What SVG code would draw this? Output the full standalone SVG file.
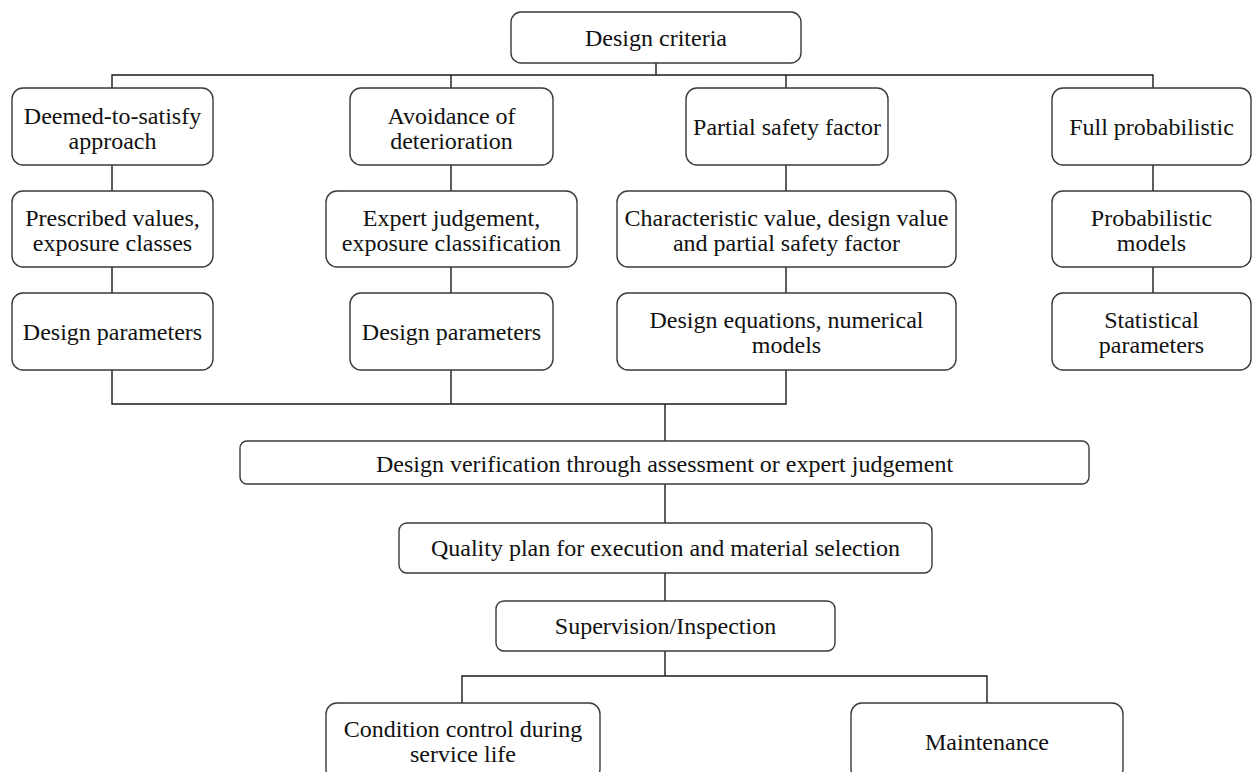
<svg xmlns="http://www.w3.org/2000/svg" width="1252" height="772" viewBox="0 0 1252 772">
<style>
.box{fill:#fff;stroke:#3a3a3a;stroke-width:1.4}
.t{font-family:"Liberation Serif","Times New Roman",serif;font-size:24px;fill:#111;text-anchor:middle}
.c{fill:none;stroke:#1a1a1a;stroke-width:1.4}
</style>
<rect width="1252" height="772" fill="#fff"/>
<g id="connectors">
<path class="c" d="M656,63V75M112,88V75H1153V88M451,75V88M786,75V88"/>
<path class="c" d="M112,165V191M451,165V191M786,165V191M1153,165V191"/>
<path class="c" d="M112,267V293M451,267V293M786,267V293M1153,267V293"/>
<path class="c" d="M112,370V404H786V370M451,370V404M665,404V441"/>
<path class="c" d="M665,484V523M665,573V601M665,651V676M462,703V676H987V703"/>
</g>
<g id="n-criteria"><rect class="box" x="511" y="12" width="290" height="51" rx="10"/><text class="t" x="656" y="46">Design criteria</text></g>
<g id="n-deemed"><rect class="box" x="12" y="88" width="201" height="77" rx="11"/><text class="t" x="112.5" y="123.5">Deemed-to-satisfy</text><text class="t" x="112.5" y="148.5">approach</text></g>
<g id="n-avoid"><rect class="box" x="350" y="88" width="203" height="77" rx="11"/><text class="t" x="451.5" y="123.5">Avoidance of</text><text class="t" x="451.5" y="148.5">deterioration</text></g>
<g id="n-partial"><rect class="box" x="686" y="88" width="202" height="77" rx="11"/><text class="t" x="787" y="135">Partial safety factor</text></g>
<g id="n-full"><rect class="box" x="1052" y="88" width="199" height="77" rx="11"/><text class="t" x="1151.5" y="135">Full probabilistic</text></g>
<g id="n-prescribed"><rect class="box" x="12" y="191" width="201" height="76" rx="11"/><text class="t" x="112.5" y="226">Prescribed values,</text><text class="t" x="112.5" y="251">exposure classes</text></g>
<g id="n-expert"><rect class="box" x="326" y="191" width="251" height="76" rx="11"/><text class="t" x="451.5" y="226">Expert judgement,</text><text class="t" x="451.5" y="251">exposure classification</text></g>
<g id="n-char"><rect class="box" x="617" y="191" width="339" height="76" rx="11"/><text class="t" x="786.5" y="226">Characteristic value, design value</text><text class="t" x="786.5" y="251">and partial safety factor</text></g>
<g id="n-probmodels"><rect class="box" x="1052" y="191" width="199" height="76" rx="11"/><text class="t" x="1151.5" y="226">Probabilistic</text><text class="t" x="1151.5" y="251">models</text></g>
<g id="n-dp1"><rect class="box" x="12" y="293" width="201" height="77" rx="11"/><text class="t" x="112.5" y="340">Design parameters</text></g>
<g id="n-dp2"><rect class="box" x="350" y="293" width="203" height="77" rx="11"/><text class="t" x="451.5" y="340">Design parameters</text></g>
<g id="n-deq"><rect class="box" x="617" y="293" width="339" height="77" rx="11"/><text class="t" x="786.5" y="328">Design equations, numerical</text><text class="t" x="786.5" y="353">models</text></g>
<g id="n-stat"><rect class="box" x="1052" y="293" width="199" height="77" rx="11"/><text class="t" x="1151.5" y="328">Statistical</text><text class="t" x="1151.5" y="353">parameters</text></g>
<g id="n-verif"><rect class="box" x="240" y="441" width="849" height="43" rx="7"/><text class="t" x="664.5" y="472">Design verification through assessment or expert judgement</text></g>
<g id="n-quality"><rect class="box" x="399" y="523" width="533" height="50" rx="8"/><text class="t" x="665.5" y="556">Quality plan for execution and material selection</text></g>
<g id="n-super"><rect class="box" x="496" y="601" width="339" height="50" rx="8"/><text class="t" x="665.5" y="634">Supervision/Inspection</text></g>
<g id="n-condition"><rect class="box" x="326" y="703" width="274" height="77" rx="11"/><text class="t" x="463" y="737">Condition control during</text><text class="t" x="463" y="762">service life</text></g>
<g id="n-maint"><rect class="box" x="851" y="703" width="272" height="77" rx="11"/><text class="t" x="987" y="750">Maintenance</text></g>
</svg>
